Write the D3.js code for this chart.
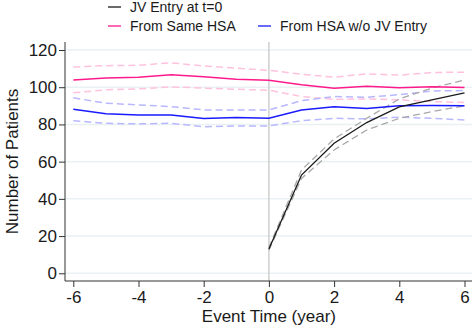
<!DOCTYPE html>
<html lang='en'>
	<head>
		<meta charset='utf-8'>
		<title>Event study</title>
		<script type='text/javascript' src='https://cdn.jsdelivr.net/npm/d3@7/dist/d3.min.js'></script>
		<style>
			body { margin: 0; background: #fff; }
			text { font-family: 'Liberation Sans', Arial, sans-serif; fill: #1a1a1a; }
			.grid line { stroke: #e9f1f2; stroke-width: 1.5px; }
			.axis path, .axis line { stroke: #333; }
		</style>
	</head>
	<body>
		<script type='text/javascript'>
			var eventTime = [-6,-5,-4,-3,-2,-1,0,1,2,3,4,5,6];
			var yTicks = [0,20,40,60,80,100,120];
			var xTicks = [-6,-4,-2,0,2,4,6];

			var sameHSA   = [103.9,105.0,105.4,106.7,105.6,104.3,103.7,101.3,99.4,100.5,99.7,100.2,99.8];
			var sameHi    = [110.9,111.6,111.8,113.1,111.4,110.2,109.1,107.0,105.4,107.2,106.5,107.9,108.1];
			var sameLo    = [97.0,98.6,99.1,100.2,99.5,98.9,98.4,95.0,93.5,93.7,93.2,92.3,91.8];

			var otherHSA  = [88.2,85.8,85.1,85.1,83.2,83.7,83.3,87.8,89.5,88.6,90.0,90.2,90.1];
			var otherHi   = [94.3,91.4,90.5,89.6,87.8,87.8,87.8,92.8,95.0,94.6,96.0,98.0,98.2];
			var otherLo   = [82.0,80.6,80.3,80.6,78.8,79.2,79.2,82.0,83.3,83.0,83.9,83.3,82.4];

			var jvTime    = [0,1,2,3,4,5,6];
			var jvEntry   = [13.1,52.8,69.9,81.0,89.4,93.2,96.9];
			var jvHi      = [13.8,55.5,72.2,83.3,93.7,99.5,103.9];
			var jvLo      = [12.4,51.0,66.3,77.0,83.3,86.9,90.0];

			var width = 476, height = 326;
			var plotL = 65, plotR = 472, plotT = 42, plotB = 281;

			var x = d3.scaleLinear().domain([-6,6]).range([73.3,464.5]);
			var y = d3.scaleLinear().domain([0,120]).range([273.3,50]);

			var svg = d3.select('body').append('svg')
				.attr('width',width).attr('height',height);

			svg.append('g').attr('class','grid')
				.selectAll('line').data(yTicks).enter().append('line')
				.attr('x1',plotL).attr('x2',plotR)
				.attr('y1',function(d){ return y(d); })
				.attr('y2',function(d){ return y(d); });

			svg.append('line')
				.attr('x1',x(0)).attr('x2',x(0))
				.attr('y1',plotT).attr('y2',plotB)
				.attr('stroke','#c4c4c4').attr('stroke-width',1.2);

			var line = d3.line()
				.x(function(d){ return x(d[0]); })
				.y(function(d){ return y(d[1]); });

			function draw(xs, ys, color, w, dash) {
				svg.append('path')
					.attr('d', line(d3.zip(xs, ys)))
					.attr('fill','none')
					.attr('stroke',color)
					.attr('stroke-width',w)
					.attr('stroke-dasharray',dash || null);
			}

			var dash = '7,4';
			draw(eventTime, sameHi, '#ffc2de', 1.5, dash);
			draw(eventTime, sameLo, '#ffc2de', 1.5, dash);
			draw(eventTime, otherHi, '#b8b8ff', 1.5, dash);
			draw(eventTime, otherLo, '#b8b8ff', 1.5, dash);
			draw(jvTime, jvHi, '#a8a8a8', 1.3, dash);
			draw(jvTime, jvLo, '#a8a8a8', 1.3, dash);
			draw(eventTime, sameHSA, '#ff1a8c', 1.5);
			draw(eventTime, otherHSA, '#1a1aff', 1.5);
			draw(jvTime, jvEntry, '#1a1a1a', 1.3);

			var fmt = function(d){ return String(d); };

			var yAxis = svg.append('g').attr('class','axis')
				.attr('transform','translate(' + plotL + ',0)')
				.call(d3.axisLeft(y).tickValues(yTicks).tickFormat(fmt).tickSize(6).tickPadding(2).tickSizeOuter(0));
			yAxis.select('.domain').attr('d','M0,' + plotT + 'V' + plotB);
			yAxis.selectAll('text').style('font-size','17px').attr('fill','#1a1a1a');

			var xAxis = svg.append('g').attr('class','axis')
				.attr('transform','translate(0,' + plotB + ')')
				.call(d3.axisBottom(x).tickValues(xTicks).tickFormat(fmt).tickSize(6).tickPadding(4).tickSizeOuter(0));
			xAxis.select('.domain').attr('d','M' + plotL + ',0H' + plotR);
			xAxis.selectAll('text').style('font-size','17px').attr('fill','#1a1a1a');

			svg.append('text')
				.attr('x', x(0)).attr('y', 322)
				.attr('text-anchor','middle')
				.style('font-size','17px')
				.text('Event Time (year)');

			svg.append('text')
				.attr('transform','translate(18,' + ((plotT + plotB) / 2) + ') rotate(-90)')
				.attr('text-anchor','middle')
				.style('font-size','17px')
				.text('Number of Patients');

			var legend = [
				{label:'JV Entry at t=0', color:'#1a1a1a', lx:108, ly:7},
				{label:'From Same HSA', color:'#ff1a8c', lx:108, ly:26},
				{label:'From HSA w/o JV Entry', color:'#1a1aff', lx:258, ly:26}
			];
			var lg = svg.append('g').selectAll('g').data(legend).enter().append('g')
				.attr('transform',function(d){ return 'translate(' + d.lx + ',' + d.ly + ')'; });
			lg.append('line').attr('x1',0).attr('x2',13)
				.attr('stroke',function(d){ return d.color; }).attr('stroke-width',1.3);
			lg.append('text').attr('x',22).attr('dy','0.35em')
				.style('font-size','14px')
				.text(function(d){ return d.label; });
		</script>
	</body>
</html>
